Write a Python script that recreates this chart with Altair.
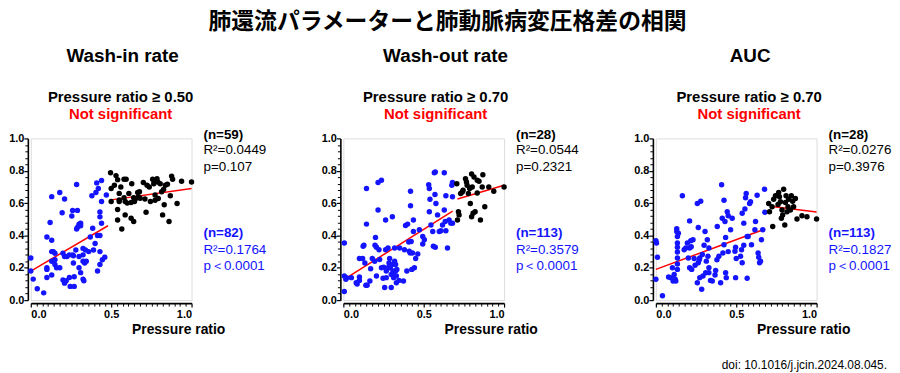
import altair as alt
import pandas as pd

# ---------------- data ----------------
# Panel 1: Wash-in rate
p1_blue_x = [0.00, 0.00, 0.015, 0.04, 0.08, 0.10, 0.10, 0.10, 0.12, 0.13, 0.13, 0.13, 0.13, 0.13, 0.15, 0.15,
             0.16, 0.18, 0.18, 0.195, 0.21, 0.20, 0.20, 0.21, 0.21, 0.225, 0.24, 0.24, 0.245, 0.255, 0.26, 0.265,
             0.27, 0.27, 0.265, 0.28, 0.285, 0.285, 0.29, 0.30, 0.30, 0.30, 0.31, 0.31, 0.325, 0.325, 0.325, 0.325,
             0.335, 0.34, 0.345, 0.37, 0.38, 0.385, 0.39, 0.40, 0.405, 0.41, 0.415, 0.415, 0.42, 0.43, 0.43, 0.43,
             0.43, 0.43, 0.44, 0.44, 0.44, 0.445, 0.46, 0.47, 0.29, 0.30, 0.31, 0.14, 0.33, 0.26, 0.15, 0.10,
             0.22, 0.36]
p1_blue_y = [0.26, 0.18, 0.13, 0.07, 0.045, 0.39, 0.20, 0.14, 0.48, 0.64, 0.37, 0.30, 0.24, 0.155, 0.29, 0.22,
             0.20, 0.20, 0.665, 0.54, 0.625, 0.29, 0.125, 0.105, 0.27, 0.27, 0.28, 0.14, 0.085, 0.52, 0.555, 0.275,
             0.085, 0.145, 0.23, 0.31, 0.715, 0.44, 0.555, 0.46, 0.27, 0.20, 0.17, 0.475, 0.28, 0.32, 0.13, 0.24,
             0.23, 0.31, 0.24, 0.39, 0.645, 0.445, 0.31, 0.35, 0.665, 0.725, 0.40, 0.18, 0.69, 0.545, 0.515, 0.30,
             0.40, 0.22, 0.74, 0.475, 0.61, 0.25, 0.265, 0.65, 0.45, 0.47, 0.46, 0.30, 0.12, 0.28, 0.25, 0.19,
             0.12, 0.30]
p1_black_x = [0.496, 0.50, 0.50, 0.52, 0.53, 0.54, 0.54, 0.54, 0.55, 0.55, 0.55, 0.56, 0.566, 0.58, 0.58, 0.587,
              0.587, 0.593, 0.60, 0.624, 0.624, 0.628, 0.64, 0.64, 0.645, 0.65, 0.665, 0.67, 0.676, 0.68, 0.70,
              0.71, 0.717, 0.723, 0.737, 0.744, 0.758, 0.765, 0.768, 0.773, 0.773, 0.785, 0.79, 0.793, 0.805,
              0.814, 0.82, 0.826, 0.83, 0.837, 0.85, 0.86, 0.868, 0.876, 0.882, 0.91, 0.938, 1.0, 0.61]
p1_black_y = [0.788, 0.69, 0.61, 0.71, 0.77, 0.745, 0.56, 0.495, 0.62, 0.66, 0.61, 0.70, 0.44, 0.747, 0.633, 0.527,
              0.61, 0.747, 0.60, 0.604, 0.506, 0.72, 0.633, 0.486, 0.61, 0.625, 0.665, 0.64, 0.67, 0.63, 0.727,
              0.625, 0.543, 0.71, 0.70, 0.61, 0.747, 0.72, 0.735, 0.65, 0.618, 0.75, 0.73, 0.628, 0.72,
              0.67, 0.527, 0.684, 0.59, 0.71, 0.716, 0.486, 0.645, 0.767, 0.747, 0.598, 0.735, 0.73, 0.66]

# Panel 2: Wash-out rate
p2_blue_x = [0.006, 0.006, 0.006, 0.016, 0.02, 0.05, 0.08, 0.086, 0.10, 0.10, 0.10, 0.12, 0.123, 0.128, 0.134,
             0.14, 0.144, 0.144, 0.148, 0.165, 0.17, 0.18, 0.195, 0.197, 0.20, 0.206, 0.206, 0.216, 0.216, 0.222,
             0.226, 0.237, 0.237, 0.247, 0.251, 0.257, 0.263, 0.263, 0.267, 0.267, 0.278, 0.278, 0.284, 0.288,
             0.292, 0.298, 0.298, 0.305, 0.305, 0.309, 0.313, 0.319, 0.319, 0.325, 0.325, 0.33, 0.333, 0.346,
             0.35, 0.374, 0.38, 0.387, 0.395, 0.40, 0.407, 0.41, 0.416, 0.418, 0.418, 0.422, 0.426, 0.43, 0.436,
             0.436, 0.442, 0.45, 0.463, 0.473, 0.494, 0.494, 0.504, 0.531, 0.535, 0.535, 0.539, 0.545, 0.556,
             0.56, 0.566, 0.57, 0.572, 0.576, 0.572, 0.586, 0.597, 0.607, 0.617, 0.628, 0.628, 0.634, 0.638,
             0.638, 0.648, 0.658, 0.669, 0.675, 0.679, 0.679, 0.679, 0.31, 0.29, 0.33, 0.27]
p2_blue_y = [0.353, 0.149, 0.053, 0.129, 0.139, 0.139, 0.108, 0.10, 0.143, 0.257, 0.122, 0.257, 0.333, 0.339, 0.23,
             0.092, 0.69, 0.47, 0.092, 0.118, 0.194, 0.257, 0.24, 0.339, 0.388, 0.327, 0.149, 0.557, 0.727, 0.312,
             0.251, 0.741, 0.20, 0.135, 0.204, 0.078, 0.496, 0.312, 0.18, 0.139, 0.322, 0.20, 0.23, 0.257,
             0.20, 0.159, 0.078, 0.516, 0.22, 0.18, 0.139, 0.322, 0.24, 0.18, 0.22, 0.108, 0.19, 0.122,
             0.322, 0.118, 0.312, 0.461, 0.18, 0.47, 0.359, 0.302, 0.292, 0.673, 0.584, 0.363, 0.19, 0.292, 0.496,
             0.424, 0.20, 0.257, 0.286, 0.435, 0.394, 0.347, 0.373, 0.714, 0.69, 0.547, 0.624, 0.465, 0.424,
             0.333, 0.788, 0.653, 0.792, 0.598, 0.327, 0.527, 0.424, 0.429, 0.465, 0.788, 0.557, 0.486, 0.645,
             0.429, 0.322, 0.496, 0.476, 0.71, 0.727, 0.639, 0.476, 0.17, 0.21, 0.15, 0.19]
p2_black_x = [0.706, 0.71, 0.716, 0.72, 0.73, 0.74, 0.745, 0.76, 0.766, 0.77, 0.778, 0.786, 0.79, 0.798, 0.798,
              0.802, 0.807, 0.813, 0.82, 0.833, 0.833, 0.844, 0.853, 0.864, 0.868, 0.88, 0.905, 0.936, 1.0]
p2_black_y = [0.72, 0.496, 0.547, 0.527, 0.659, 0.669, 0.68, 0.751, 0.73, 0.71, 0.659, 0.69, 0.598, 0.78, 0.516,
              0.70, 0.537, 0.761, 0.547, 0.741, 0.663, 0.735, 0.496, 0.70, 0.775, 0.578, 0.70, 0.673, 0.70]

# Panel 3: AUC
p3_blue_x = [0.0, 0.004, 0.0, 0.01, 0.041, 0.079, 0.093, 0.103, 0.107, 0.114, 0.12, 0.124, 0.13, 0.13, 0.134,
             0.134, 0.134, 0.134, 0.134, 0.134, 0.134, 0.14, 0.165, 0.176, 0.186, 0.196, 0.202, 0.21, 0.21, 0.21,
             0.217, 0.223, 0.231, 0.238, 0.244, 0.258, 0.258, 0.264, 0.264, 0.273, 0.273, 0.279, 0.285, 0.289,
             0.293, 0.30, 0.306, 0.31, 0.314, 0.32, 0.324, 0.33, 0.33, 0.34, 0.351, 0.368, 0.372, 0.382, 0.392,
             0.403, 0.409, 0.413, 0.417, 0.424, 0.424, 0.43, 0.434, 0.434, 0.438, 0.444, 0.45, 0.465, 0.475,
             0.492, 0.496, 0.496, 0.50, 0.527, 0.533, 0.537, 0.537, 0.547, 0.547, 0.554, 0.558, 0.562, 0.568,
             0.568, 0.574, 0.583, 0.589, 0.595, 0.616, 0.62, 0.63, 0.636, 0.64, 0.645, 0.651, 0.657, 0.665, 0.676,
             0.678, 0.27, 0.33, 0.22, 0.45, 0.38]
p3_blue_y = [0.367, 0.353, 0.129, 0.265, 0.027, 0.143, 0.139, 0.20, 0.118, 0.159, 0.129, 0.118, 0.441, 0.424,
             0.394, 0.353, 0.327, 0.298, 0.261, 0.224, 0.19, 0.414, 0.645, 0.312, 0.322, 0.353, 0.261, 0.49,
             0.322, 0.20, 0.367, 0.19, 0.373, 0.257, 0.216, 0.108, 0.598, 0.449, 0.231, 0.261, 0.139, 0.612,
             0.067, 0.282, 0.149, 0.339, 0.424, 0.169, 0.241, 0.373, 0.271, 0.322, 0.20, 0.122, 0.118, 0.155,
             0.184, 0.455, 0.271, 0.108, 0.714, 0.506, 0.292, 0.618, 0.343, 0.486, 0.169, 0.388, 0.139, 0.547,
             0.522, 0.435, 0.506, 0.302, 0.327, 0.139, 0.257, 0.271, 0.312, 0.231, 0.537, 0.476, 0.339, 0.563,
             0.633, 0.659, 0.394, 0.135, 0.394, 0.598, 0.608, 0.343, 0.435, 0.486, 0.649, 0.292, 0.265, 0.231,
             0.241, 0.373, 0.435, 0.686, 0.543, 0.25, 0.17, 0.33, 0.30, 0.25]
p3_black_x = [0.702, 0.707, 0.723, 0.727, 0.733, 0.744, 0.76, 0.764, 0.769, 0.775, 0.781, 0.785, 0.789, 0.795,
              0.802, 0.806, 0.81, 0.816, 0.822, 0.826, 0.837, 0.843, 0.851, 0.857, 0.868, 0.878, 0.909, 0.94, 1.0]
p3_black_y = [0.598, 0.547, 0.578, 0.455, 0.624, 0.645, 0.592, 0.665, 0.639, 0.608, 0.506, 0.557, 0.527, 0.686,
              0.465, 0.604, 0.645, 0.547, 0.578, 0.624, 0.557, 0.645, 0.612, 0.578, 0.629, 0.502, 0.522, 0.516, 0.502]

# regression line end points (x0, y0, x1, y1)
p1_fit_blue = [0.0, 0.18, 0.48, 0.46]
p1_fit_black = [0.5, 0.62, 1.0, 0.69]
p2_fit_blue = [0.0, 0.125, 0.68, 0.55]
p2_fit_black = [0.71, 0.625, 1.0, 0.71]
p3_fit_blue = [0.0, 0.19, 0.68, 0.44]
p3_fit_black = [0.71, 0.58, 1.0, 0.545]

panel_titles = ["Wash-in rate", "Wash-out rate", "AUC"]
thresholds = ["Pressure ratio ≥ 0.50", "Pressure ratio ≥ 0.70", "Pressure ratio ≥ 0.70"]
black_stats = [["(n=59)", "R²=0.0449", "p=0.107"],
               ["(n=28)", "R²=0.0544", "p=0.2321"],
               ["(n=28)", "R²=0.0276", "p=0.3976"]]
blue_stats = [["(n=82)", "R²=0.1764", "p＜0.0001"],
              ["(n=113)", "R²=0.3579", "p＜0.0001"],
              ["(n=113)", "R²=0.1827", "p＜0.0001"]]
main_title = "肺還流パラメーターと肺動脈病変圧格差の相関"
x_title = "Pressure ratio"
doi_text = "doi: 10.1016/j.jcin.2024.08.045."
x_ticks = [0.0, 0.5, 1.0]
y_ticks = [0.0, 0.2, 0.4, 0.6, 0.8, 1.0]

# ---------------- styling ----------------
W, H = 162, 163
FONT = "Liberation Sans"
BLUE = "#1414ff"
BLACK = "#000000"
RED = "#ff0000"

x_minor = [k / 28 for k in range(29) if k % 14 != 0]
y_minor = [round(k * 0.04, 4) for k in range(26) if k % 5 != 0]


def sc():
    return alt.Scale(domain=[0, 1], nice=False, zero=False)


def major_axis(vals, orient):
    return alt.Axis(values=vals, format=".1f", orient=orient, title=None, grid=False,
                    labelFont=FONT, labelFontWeight="bold", labelFontSize=11, labelColor="black",
                    labelPadding=2 if orient == "bottom" else 0,
                    tickSize=4, tickWidth=1.2, tickColor="black",
                    domainColor="black", domainWidth=1.6, offset=3)


def minor_axis(vals, orient):
    return alt.Axis(values=vals, labels=False, orient=orient, title=None, grid=False,
                    tickSize=3, tickWidth=1, tickColor="black", domain=False, offset=3)


def text_layer(txt, x, y, size, weight="normal", color="black", align="center",
               baseline="middle", font=FONT):
    return alt.Chart(pd.DataFrame({"t": [txt]})).mark_text(
        font=font, fontSize=size, fontWeight=weight, color=color, align=align, baseline=baseline
    ).encode(text="t:N", x=alt.value(x), y=alt.value(y))


def panel(i, bx, by, kx, ky, fb, fk, title_x, sub_x, extra=None):
    pts = pd.DataFrame({
        "x": bx + kx,
        "y": by + ky,
        "g": ["blue"] * len(bx) + ["black"] * len(kx),
    })
    fits = pd.DataFrame({
        "x": [fb[0], fb[2], fk[0], fk[2]],
        "y": [fb[1], fb[3], fk[1], fk[3]],
        "s": ["b", "b", "k", "k"],
    })
    lines = alt.Chart(fits).mark_line(color=RED, strokeWidth=1.5).encode(
        x=alt.X("x:Q", scale=sc(), axis=minor_axis(x_minor, "bottom")),
        y=alt.Y("y:Q", scale=sc(), axis=minor_axis(y_minor, "left")),
        detail="s:N",
    )
    points = alt.Chart(pts).mark_circle(size=30, opacity=1).encode(
        x=alt.X("x:Q", scale=sc(), axis=major_axis(x_ticks, "bottom")),
        y=alt.Y("y:Q", scale=sc(), axis=major_axis(y_ticks, "left")),
        color=alt.Color("g:N", scale=alt.Scale(domain=["blue", "black"], range=[BLUE, BLACK]), legend=None),
    )
    layers = [lines, points,
              text_layer(panel_titles[i], title_x, -76.7, 19, "bold", baseline="alphabetic"),
              text_layer(thresholds[i], sub_x, -36.7, 15, "bold", baseline="alphabetic"),
              text_layer("Not significant", sub_x, -20, 15, "bold", color=RED, baseline="alphabetic"),
              text_layer(x_title, 149, 193, 14, "bold"),
              ]
    ax = W + 12
    for j, (t, yy) in enumerate(zip(black_stats[i], [-3.5, 12, 28.5])):
        layers.append(text_layer(t, ax, yy, 13.5, "bold" if j == 0 else "normal", BLACK, align="left"))
    for j, (t, yy) in enumerate(zip(blue_stats[i], [95.5, 112, 128.5])):
        layers.append(text_layer(t, ax, yy, 13.5, "bold" if j == 0 else "normal", BLUE, align="left"))
    if extra:
        layers += extra
    return (alt.layer(*layers)
            .resolve_scale(x="independent", y="independent")
            .resolve_axis(x="independent", y="independent")
            .properties(width=W, height=H))


c1 = panel(0, p1_blue_x, p1_blue_y, p1_black_x, p1_black_y, p1_fit_blue, p1_fit_black, 92.5, 90.5)
c2 = panel(1, p2_blue_x, p2_blue_y, p2_black_x, p2_black_y, p2_fit_blue, p2_fit_black, 103, 93,
           extra=[text_layer(main_title, 105, -117, 23, "bold", font="Noto Sans CJK JP")])
c3 = panel(2, p3_blue_x, p3_blue_y, p3_black_x, p3_black_y, p3_fit_blue, p3_fit_black, 95, 94,
           extra=[text_layer(doi_text, 233, 232, 12, align="right", baseline="alphabetic")])

chart = alt.hconcat(c1, c2, c3, spacing=153, bounds="flush").properties(
    padding={"left": 0, "top": 1, "right": 0, "bottom": 0}
).configure_view(stroke=None).configure(background="white")

chart.save("out.html", embed_options={"renderer": "svg", "actions": False})
